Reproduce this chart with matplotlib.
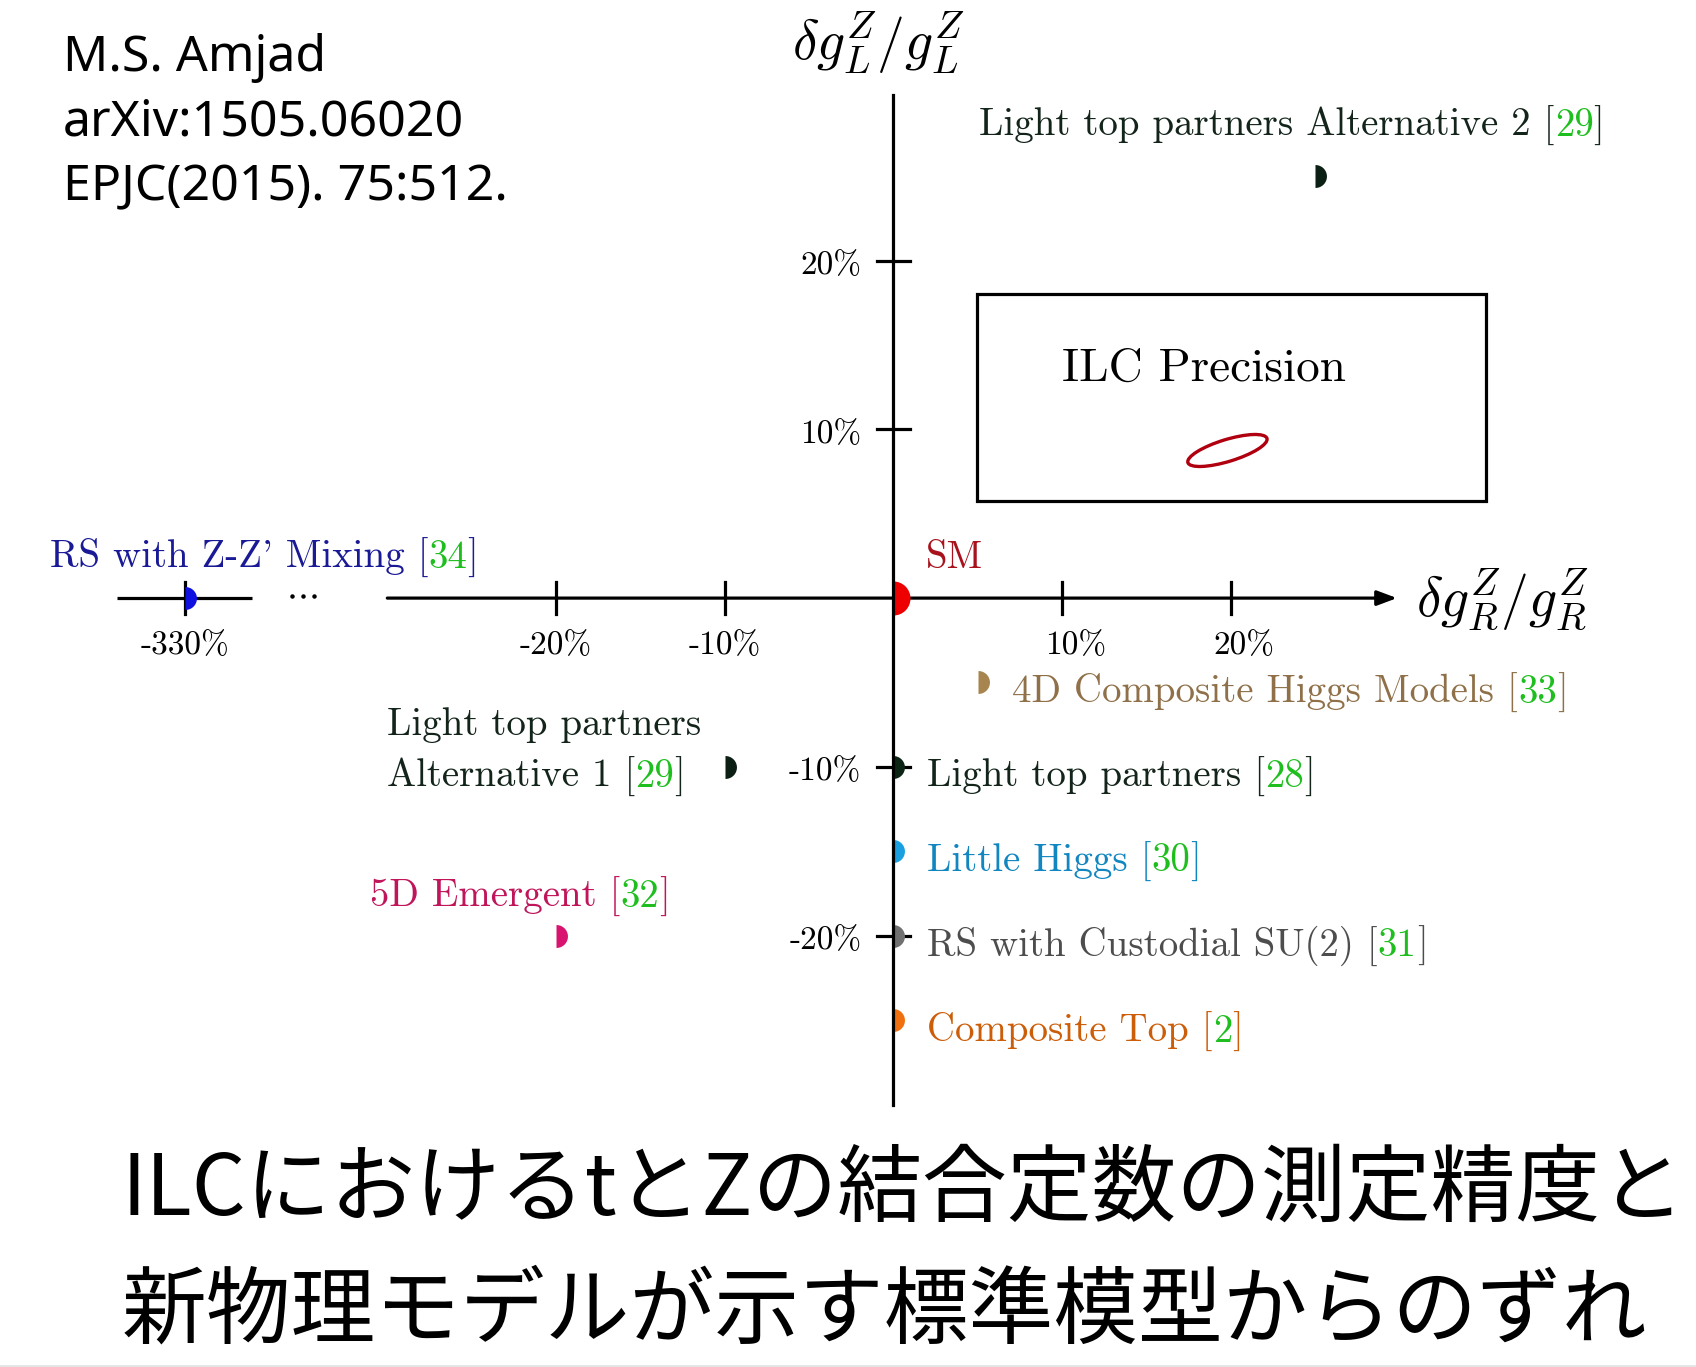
import numpy as np
import matplotlib
matplotlib.use('Agg')
import matplotlib.pyplot as plt
from matplotlib.patches import Ellipse, Rectangle

plt.rcParams['mathtext.fontset'] = 'cm'

# predicted shifts of the top-Z couplings (percent) for each model
models = ['SM', 'Light top partners Alternative 2', '4D Composite Higgs Models',
          'Light top partners\nAlternative 1', 'Light top partners', 'Little Higgs',
          'RS with Custodial SU(2)', 'Composite Top', '5D Emergent', "RS with Z-Z' Mixing"]
refs = [None, '29', '33', '29', '28', '30', '31', '2', '32', '34']
dgR = [0, 25, 5, -10, 0, 0, 0, 0, -20, -330]
dgL = [0, 25, -5, -10, -10, -15, -20, -25, -20, 0]

x_ticks = [-330, -20, -10, 10, 20]
y_ticks = [20, 10, -10, -20]

# ILC precision contour (percent)
ilc_center = (19.8, 8.75)
ilc_size = (4.9, 1.3)
ilc_angle = 17

marker_colors = ['#ee0000', '#0b1f14', '#a8844f', '#0b1f14', '#0b2414', '#1aa0e0',
                 '#707070', '#f07010', '#d81470', '#1010e0']
text_colors = ['#a8121c', '#13241a', '#8f7049', '#13241a', '#13241a', '#1286c0',
               '#4d4d4d', '#cc5e0a', '#c0155a', '#1a1a96']
REF_GREEN = '#1ebe1e'

# where each label starts (left edge, baseline)
label_pos = [(1.9, 1.8), (5.1, 27.4), (7.05, -6.2), (-30.0, -8.1), (2.0, -11.2),
             (2.0, -16.2), (2.0, -21.2), (2.0, -26.3), (-31.0, -18.3), (-50.0, 1.8)]

BREAK_AT = -30
BREAK_SHIFT = 288
LABEL_SIZE = 28
TICK_SIZE = 24
LINE_GAP = 3.1
LW = 2.3


def squash(v):
    """compress the far-left part of the dgR axis past the break"""
    v = np.asarray(v, dtype=float)
    return np.where(v < BREAK_AT, v + BREAK_SHIFT, v)


W, H = 1696, 1367
fig = plt.figure(figsize=(W / 100, H / 100), dpi=100)
ax = fig.add_axes([0, 0, 1, 1])
scale = 16.87  # pixels per percent
x0, y0 = 893.4, 598.1
ax.set_xlim(-x0 / scale, (W - x0) / scale)
ax.set_ylim(-(H - y0) / scale, y0 / scale)
ax.axis('off')
renderer = fig.canvas.get_renderer()

# axes with a break on the dgR side
ax.plot([-46.0, -38.0], [0, 0], color='black', lw=LW, solid_capstyle='butt', zorder=3)
ax.plot(-35.0 + 0.64 * np.arange(-1, 2), np.full(3, 0.15), 'o', ms=2.2, color='black')
ax.annotate('', xy=(29.85, 0), xytext=(-30.0, 0),
            arrowprops=dict(arrowstyle='-|>,head_length=0.4,head_width=0.15',
                            mutation_scale=30, lw=LW, color='black',
                            shrinkA=0, shrinkB=0), zorder=3)
ax.plot([0, 0], [-30.05, 29.8], color='black', lw=LW, zorder=5)

for v in x_ticks:
    sx = float(squash(v))
    ax.plot([sx, sx], [-0.95, 0.95], color='black', lw=LW, zorder=3)
    shift = 0.8 if v > 0 else 0.0
    ax.text(sx + shift, -3.3, f'{v}%', family='cmr10', fontsize=TICK_SIZE,
            ha='center', va='baseline')

for v in y_ticks:
    ax.plot([-1.0, 1.0], [v, v], color='black', lw=LW, zorder=3)
    ax.text(-1.9, v - 0.8, f'{v}%', family='cmr10', fontsize=TICK_SIZE,
            ha='right', va='baseline')

ax.text(31.0, -0.1, r'$\delta g_R^Z/g_R^Z$', fontsize=40, ha='left', va='center')
ax.text(-0.9, 32.9, r'$\delta g_L^Z/g_L^Z$', fontsize=40, ha='center', va='center')

# ILC precision inset
ax.add_patch(Rectangle((4.95, 5.75), 30.15, 12.25, fill=False, ec='black', lw=LW, zorder=3))
ax.text(10.0, 12.9, 'ILC Precision', family='cmr10', fontsize=34, va='baseline')
ax.add_patch(Ellipse(ilc_center, ilc_size[0], ilc_size[1], angle=ilc_angle,
                     fill=False, ec='#b00010', lw=2.4, zorder=4))


def ref_label(x, y, text, ref, color):
    lines = text.split('\n')
    for i, line in enumerate(lines):
        yy = y - i * LINE_GAP
        if i < len(lines) - 1 or ref is None:
            ax.text(x, yy, line, color=color, family='cmr10', fontsize=LABEL_SIZE, va='baseline')
            continue
        xx = x
        for s, c in [(line + ' [', color), (ref, REF_GREEN), (']', color)]:
            t = ax.text(xx, yy, s, color=c, family='cmr10', fontsize=LABEL_SIZE, va='baseline')
            bb = t.get_window_extent(renderer)
            xx = ax.transData.inverted().transform((bb.x1, bb.y0))[0]


for i, name in enumerate(models):
    ms = 24.5 if name == 'SM' else 16.5
    ax.plot(squash(dgR[i]), dgL[i], marker='o', ms=ms, fillstyle='right',
            markerfacecoloralt='none', mfc=marker_colors[i], mec='none',
            linestyle='none', zorder=4)
    lx, ly = label_pos[i]
    ref_label(lx, ly, name, refs[i], text_colors[i])

# citation and caption
for k, s in enumerate(['M.S. Amjad', 'arXiv:1505.06020', 'EPJC(2015). 75:512.']):
    fig.text(63 / W, 1 - (71 + 64.5 * k) / H, s, family='Noto Sans', fontsize=36, va='baseline')

jp = ['ILCにおけるtとZの結合定数の測定精度と', '新物理モデルが示す標準模型からのずれ']
for k, s in enumerate(jp):
    fig.text(122 / W, 1 - (1215 + 121 * k) / H, s, family=['Noto Sans CJK JP', 'DejaVu Sans'],
             fontsize=61, va='baseline')

fig.add_artist(plt.Line2D([0, 1], [1.5 / H, 1.5 / H], color='#e4e4e4', lw=2))

fig.savefig('out.png', dpi=100)
